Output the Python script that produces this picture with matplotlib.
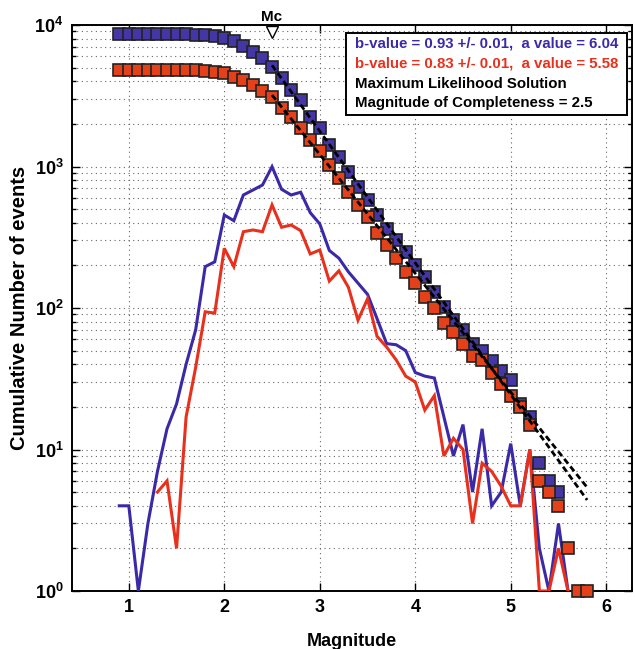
import numpy as np
import matplotlib
matplotlib.use("Agg")
import matplotlib.pyplot as plt
from matplotlib.ticker import FixedLocator, LogLocator, NullFormatter, FuncFormatter

# ---------------- data ----------------
mag_cum_blue = [0.9, 1.0, 1.1, 1.2, 1.3, 1.4, 1.5, 1.6, 1.7, 1.8, 1.9, 2.0, 2.1, 2.2, 2.3, 2.4,
                2.5, 2.6, 2.7, 2.8, 2.9, 3.0, 3.1, 3.2, 3.3, 3.4, 3.5, 3.6, 3.7, 3.8, 3.9, 4.0,
                4.1, 4.2, 4.3, 4.4, 4.5, 4.6, 4.7, 4.8, 4.9, 5.0, 5.1, 5.2, 5.3, 5.4, 5.5]
cum_blue = [8640, 8636, 8632, 8631, 8628, 8622, 8608, 8587, 8546, 8480, 8300, 8100, 7700, 7150,
            6480, 5820, 5080, 4200, 3470, 2950, 2250, 1860, 1420, 1170, 918, 720, 580, 454, 360,
            303, 250, 201, 166, 130, 102, 82, 70, 56, 50, 42, 36, 31, 21, 17, 8, 6, 5]

mag_cum_red = [0.9, 1.0, 1.1, 1.2, 1.3, 1.4, 1.5, 1.6, 1.7, 1.8, 1.9, 2.0, 2.1, 2.2, 2.3, 2.4,
               2.5, 2.6, 2.7, 2.8, 2.9, 3.0, 3.1, 3.2, 3.3, 3.4, 3.5, 3.6, 3.7, 3.8, 3.9, 4.0,
               4.1, 4.2, 4.3, 4.4, 4.5, 4.6, 4.7, 4.8, 4.9, 5.0, 5.1, 5.2, 5.3, 5.4, 5.5, 5.6,
               5.7, 5.8]
cum_red = [4810, 4810, 4810, 4810, 4810, 4805, 4799, 4797, 4780, 4742, 4650, 4560, 4300, 4100,
           3760, 3410, 3100, 2580, 2230, 1870, 1530, 1290, 1030, 826, 664, 535, 442, 337, 279,
           224, 181, 150, 120, 100, 78, 68, 56, 46, 43, 35, 29, 24, 20, 15, 6, 5, 4, 2, 1, 1]

mag_blue = [0.9, 1.0, 1.1, 1.2, 1.3, 1.4, 1.5, 1.6, 1.7, 1.8, 1.9, 2.0, 2.1, 2.2, 2.3, 2.4,
            2.5, 2.6, 2.7, 2.8, 2.9, 3.0, 3.1, 3.2, 3.3, 3.4, 3.5, 3.6, 3.7, 3.8, 3.9, 4.0,
            4.1, 4.2, 4.3, 4.4, 4.5, 4.6, 4.7, 4.8, 4.9, 5.0, 5.1, 5.2, 5.3, 5.4, 5.5, 5.6]
n_blue = [4, 4, 1, 3, 7, 14, 21, 40, 70, 196, 212, 454, 414, 629, 682, 740,
          997, 690, 629, 658, 472, 393, 255, 225, 180, 150, 125, 84, 56, 55, 50, 35,
          33, 32, 17, 9, 15, 5, 14, 4, 5, 11, 4, 10, 2, 1, 3, 1]

mag_red = [1.3, 1.4, 1.5, 1.6, 1.7, 1.8, 1.9, 2.0, 2.1, 2.2, 2.3, 2.4,
           2.5, 2.6, 2.7, 2.8, 2.9, 3.0, 3.1, 3.2, 3.3, 3.4, 3.5, 3.6, 3.7, 3.8, 3.9, 4.0,
           4.1, 4.2, 4.3, 4.4, 4.5, 4.6, 4.7, 4.8, 4.9, 5.0, 5.1, 5.2, 5.3, 5.4, 5.5, 5.6]
n_red = [5, 6, 2, 17, 38, 94, 92, 264, 196, 346, 356, 346,
         535, 372, 386, 352, 241, 257, 155, 183, 140, 82, 116, 63, 53, 43, 33, 30,
         19, 24, 9, 12, 10, 3, 8, 7, 5.5, 4, 4, 10, 1, 1, 2, 1]

# fitted Gutenberg-Richter lines (end points)
fit_mag = [2.5, 5.8]
fit_blue = [5190, 4.4]
fit_red = [3200, 5.4]

b_values = [0.93, 0.83]
b_errors = [0.01, 0.01]
a_values = [6.04, 5.58]
mc = 2.5
mc_marker_y = 8900

x_ticks = [1, 2, 3, 4, 5, 6]
y_decades = [0, 1, 2, 3, 4]

# ---------------- style ----------------
BLUE_LINE = '#3b2aa8'
RED_LINE = '#e8301c'
BLUE_SQ = '#4536a6'
RED_SQ = '#e4401a'
FONT = ['Liberation Sans', 'DejaVu Sans']

plt.rcParams['font.family'] = FONT
plt.rcParams['font.weight'] = 'bold'
plt.rcParams['mathtext.fontset'] = 'custom'
plt.rcParams['mathtext.rm'] = 'Liberation Sans:bold'
plt.rcParams['mathtext.bf'] = 'Liberation Sans:bold'
plt.rcParams['mathtext.it'] = 'Liberation Sans:bold'

fig = plt.figure(figsize=(6.35, 6.49), dpi=100)
ax = fig.add_axes([72 / 635, 58 / 649, (632 - 72) / 635, (591 - 25) / 649])

ax.set_yscale('log')
ax.set_xlim(0.405, 6.27)
ax.set_ylim(1, 1e4)

# grid
grid_kw = dict(color='#666666', linestyle=(0, (1, 3.2)), linewidth=0.8)
ax.xaxis.grid(True, which='major', **grid_kw)
ax.yaxis.grid(True, which='both', **grid_kw)
ax.set_axisbelow(True)

# frequency lines
ax.plot(mag_blue, n_blue, color=BLUE_LINE, lw=2.2, zorder=3, solid_joinstyle='miter')
ax.plot(mag_red, n_red, color=RED_LINE, lw=2.2, zorder=3, solid_joinstyle='miter')

# cumulative squares
ax.plot(mag_cum_blue, cum_blue, 's', ms=9.0, mfc=BLUE_SQ, mec='#222222', mew=1.2, zorder=4,
        clip_on=False)
ax.plot(mag_cum_red, cum_red, 's', ms=9.0, mfc=RED_SQ, mec='#222222', mew=1.2, zorder=5,
        clip_on=False)

# fits
for fy in (fit_blue, fit_red):
    ax.plot(fit_mag, fy, color='black', lw=2.0, linestyle=(0, (2.2, 1.3)), zorder=6)

# Mc marker
ax.plot([mc], [mc_marker_y], 'v', ms=9, mfc='white', mec='black', mew=1.0, zorder=7,
        clip_on=False)
ax.text(mc, 1.0 + 1 / 566, 'Mc', transform=ax.get_xaxis_transform(), ha='center',
        va='bottom', fontsize=11, fontweight='bold')

# ticks
ax.xaxis.set_major_locator(FixedLocator(x_ticks))
ax.yaxis.set_major_locator(FixedLocator([10.0 ** d for d in y_decades]))
ax.yaxis.set_minor_locator(LogLocator(base=10, subs=np.arange(2, 10)))
ax.yaxis.set_minor_formatter(NullFormatter())
ax.yaxis.set_major_formatter(FuncFormatter(lambda v, p: r'$\mathbf{10^{%d}}$' % int(round(np.log10(v)))))
ax.tick_params(axis='both', which='both', direction='in', top=True, right=True,
               labelsize=13, width=1.0)
ax.tick_params(axis='both', which='major', length=6, pad=6)
ax.tick_params(axis='y', which='minor', length=3)
for lab in ax.get_xticklabels():
    lab.set_fontweight('bold')
for s in ax.spines.values():
    s.set_linewidth(1.4)

ax.set_xlabel('Magnitude', fontsize=13, fontweight='bold', labelpad=12)
ax.set_ylabel('Cumulative Number of events', fontsize=14.5, fontweight='bold', labelpad=4)

# info box
lines = [
    ('b-value = %.2f +/- %.2f,  a value = %.2f' % (b_values[0], b_errors[0], a_values[0]), BLUE_LINE),
    ('b-value = %.2f +/- %.2f,  a value = %.2f' % (b_values[1], b_errors[1], a_values[1]), RED_LINE),
    ('Maximum Likelihood Solution', 'black'),
    ('Magnitude of Completeness = %.1f' % mc, 'black'),
]
box = plt.Rectangle((346 / 635, 1 - 115 / 649), (627 - 346) / 635, (115 - 33) / 649,
                    transform=fig.transFigure, facecolor='white', edgecolor='black', lw=1.4,
                    zorder=10)
fig.patches.append(box)
for i, (t, c) in enumerate(lines):
    fig.text(355 / 635, 1 - (44 + 19.8 * i) / 649, t, color=c, fontsize=10.8, fontweight='bold',
             ha='left', va='center', zorder=11)

fig.savefig('out.png', dpi=100)
